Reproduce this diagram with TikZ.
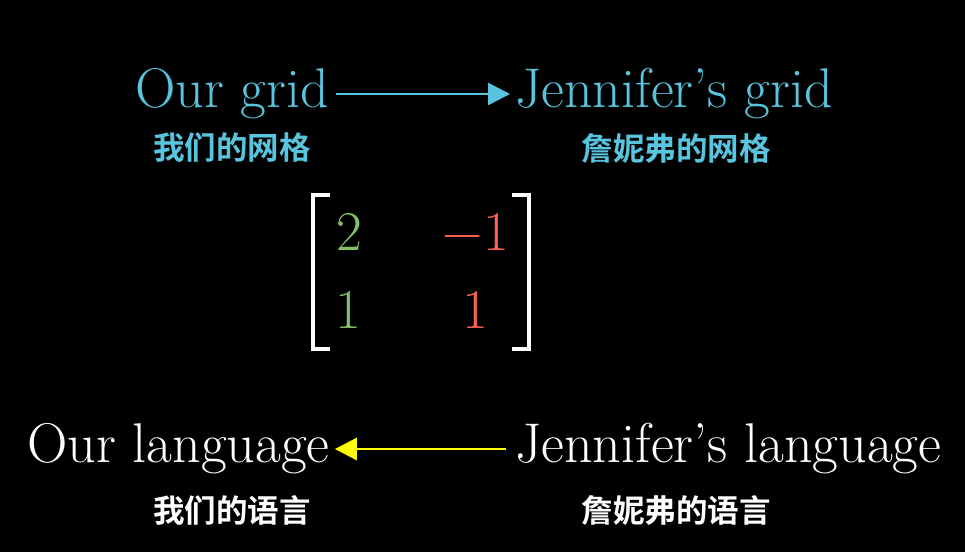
\documentclass[tikz,border=0pt]{standalone}
\usepackage{fontspec}
\newfontfamily\cjk{Noto Sans CJK SC Bold}
\usetikzlibrary{arrows.meta}
\definecolor{tbblue}{HTML}{58C4DD}
\definecolor{tbgreen}{HTML}{83C167}
\definecolor{tbred}{HTML}{FC6255}
\definecolor{tbyellow}{HTML}{FFFF00}
\tikzset{
  big/.style={inner sep=0pt, font=\fontsize{56}{64}\selectfont},
  cn/.style={inner sep=0pt, font=\cjk\fontsize{31.5}{36}\selectfont},
  entry/.style={inner sep=0pt, anchor=base, font=\fontsize{56}{64}\selectfont},
  conn/.style={line width=2.8pt, -{Triangle[length=22pt,width=22pt]}},
  brk/.style={white, line width=4.5pt, line cap=butt, line join=miter}
}
\begin{document}
\begin{tikzpicture}[x=1pt,y=1pt]
\fill[black] (0,0) rectangle (965,552);
\useasboundingbox (0,0) rectangle (965,552);
% top
\node[big, tbblue, anchor=base west] (og) at (135,444) {Our grid};
\node[big, tbblue, anchor=base west] (jg) at (515,444) {Jennifer's grid};
\node[cn, tbblue] (ogc) at (232,404) {我们的网格};
\node[cn, tbblue] (jgc) at (676,404) {詹妮弗的网格};
\coordinate (ta) at (336,458);
\draw[conn, tbblue] (ta -| og.east) ++(7,0) -- ([xshift=-5pt]ta -| jg.west);
% matrix
\node[entry, tbgreen] (m11) at (349,301) {2};
\node[entry, tbred] (m12) at (476,301) {−1};
\node[entry, tbgreen] (m21) at (348,224) {1};
\node[entry, tbred] (m22) at (475,224) {1};
\draw[brk] (330,357) -- (313,357) -- (313,203) -- (330,203);
\draw[brk] (512,357) -- (529,357) -- (529,203) -- (512,203);
% bottom
\node[big, white, anchor=base west] (ol) at (27,90) {Our language};
\node[big, white, anchor=base west] (jl) at (515,90) {Jennifer's language};
\node[cn, white] (olc) at (232,42) {我们的语言};
\node[cn, white] (jlc) at (676,42) {詹妮弗的语言};
\coordinate (ba) at (505,103);
\draw[conn, tbyellow] (ba -| jl.west) ++(-9,0) -- ([xshift=5pt]ba -| ol.east);
\end{tikzpicture}
\end{document}
